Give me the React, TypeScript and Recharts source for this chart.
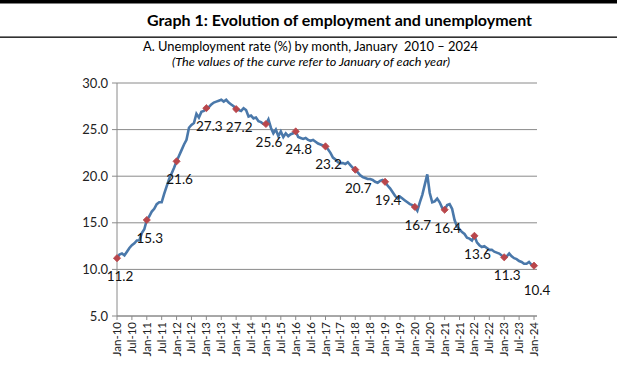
import React from 'react';
import { LineChart, Line, XAxis, YAxis, CartesianGrid, LabelList } from 'recharts';

const years = ['10', '11', '12', '13', '14', '15', '16', '17', '18', '19', '20', '21', '22', '23', '24'];
const monthAbbr = ['Jan', 'Feb', 'Mar', 'Apr', 'May', 'Jun', 'Jul', 'Aug', 'Sep', 'Oct', 'Nov', 'Dec'];

// Monthly unemployment rate (%), Jan-10 .. Jan-24
const rate = [
  // 2010
  11.2, 11.6, 11.7, 11.5, 11.9, 12.3, 12.6, 12.8, 13.1, 13.1, 13.9, 14.3,
  // 2011
  15.3, 15.7, 16.2, 16.5, 17.0, 17.2, 17.2, 18.1, 18.9, 19.7, 20.3, 20.9,
  // 2012
  21.6, 22.2, 22.8, 23.4, 23.9, 25.2, 25.5, 25.7, 26.7, 26.3, 26.9, 27.0,
  // 2013
  27.3, 27.4, 27.7, 27.9, 28.0, 28.1, 28.2, 28.0, 28.2, 27.9, 27.7, 27.5,
  // 2014
  27.2, 27.1, 27.0, 27.3, 27.1, 26.4, 26.5, 26.2, 26.3, 25.9, 25.8, 25.6,
  // 2015
  25.6, 26.1, 25.2, 24.6, 25.0, 24.3, 24.8, 24.2, 24.6, 24.3, 24.5, 24.6,
  // 2016
  24.8, 24.2, 24.1, 24.0, 24.1, 23.9, 23.8, 23.9, 23.7, 23.5, 23.4, 23.3,
  // 2017
  23.2, 22.9, 22.5, 22.0, 21.8, 21.5, 21.4, 21.4, 21.3, 21.5, 21.2, 20.9,
  // 2018
  20.7, 20.4, 20.1, 19.9, 19.8, 19.7, 19.7, 19.6, 19.4, 19.3, 19.5, 19.6,
  // 2019
  19.4, 19.0, 18.7, 18.3, 17.9, 17.6, 17.8, 17.6, 17.4, 17.2, 17.0, 16.9,
  // 2020
  16.7, 16.3, 17.2, 18.0, 19.1, 20.2, 18.2, 17.2, 17.3, 17.6, 17.2, 16.6,
  // 2021
  16.4, 16.9, 17.0, 16.5, 15.3, 14.6, 14.3, 14.0, 13.8, 13.4, 13.3, 13.1,
  // 2022
  13.6, 12.9, 12.6, 12.4, 12.5, 12.3, 12.1, 12.1, 11.9, 11.8, 11.7, 11.5,
  // 2023
  11.3, 11.4, 11.7, 11.4, 11.2, 11.1, 10.9, 10.8, 10.6, 10.6, 10.8, 10.5,
  // 2024
  10.4,
];

const xTicks = [
  'Jan-10', 'Jul-10', 'Jan-11', 'Jul-11', 'Jan-12', 'Jul-12', 'Jan-13', 'Jul-13', 'Jan-14', 'Jul-14',
  'Jan-15', 'Jul-15', 'Jan-16', 'Jul-16', 'Jan-17', 'Jul-17', 'Jan-18', 'Jul-18', 'Jan-19', 'Jul-19',
  'Jan-20', 'Jul-20', 'Jan-21', 'Jul-21', 'Jan-22', 'Jul-22', 'Jan-23', 'Jul-23', 'Jan-24',
];
const yTicks = [5, 10, 15, 20, 25, 30];

const categories: string[] = [];
years.forEach((y) => monthAbbr.forEach((m) => categories.push(`${m}-${y}`)));

const data = rate.map((v, i) => ({ month: categories[i], rate: v }));

const FONT = 'Lato, "Open Sans", sans-serif';
const GRID = '#8a8a8a';

const JanDot = (props: any) => {
  const { cx, cy, index } = props;
  if (index % 12 !== 0 || cx == null) return <g key={`d${index}`} />;
  const s = 3.6;
  return (
    <path
      key={`d${index}`}
      d={`M${cx},${cy - s} L${cx + s},${cy} L${cx},${cy + s} L${cx - s},${cy} Z`}
      fill="#b9464b"
      stroke="#b9464b"
      strokeWidth={0.8}
    />
  );
};

const JanLabel = (props: any) => {
  const { x, y, value, index } = props;
  if (index == null || index % 12 !== 0) return null;
  const last = index === rate.length - 1;
  return (
    <text
      x={x + 3}
      y={y + (last ? 29 : 23)}
      textAnchor="middle"
      fontFamily={FONT}
      fontSize={13.5}
      fill="#111"
    >
      {Number(value).toFixed(1)}
    </text>
  );
};

const XTick = (props: any) => {
  const { x, y, payload } = props;
  return (
    <text
      x={x}
      y={y}
      transform={`rotate(-90, ${x}, ${y})`}
      textAnchor="end"
      dy="0.35em"
      fontFamily={FONT}
      fontSize={11.5}
      fill="#222"
    >
      {payload.value}
    </text>
  );
};

export default function App() {
  return (
    <div style={{ position: 'absolute', left: 0, top: 0, width: 617, height: 386, background: '#fff', overflow: 'hidden' }}>
      <svg width={617} height={80} style={{ position: 'absolute', left: 0, top: 0 }}>
        <rect x={0} y={0} width={617} height={3.5} fill="#000" />
        <rect x={0} y={36.5} width={617} height={1.3} fill="#000" />
        <text x={147} y={26} fontFamily={FONT} fontWeight={700} fontSize={16} textLength={385} lengthAdjust="spacingAndGlyphs" fill="#000">
          Graph 1: Evolution of employment and unemployment
        </text>
        <text x={143} y={51} fontFamily={FONT} fontSize={13.5} textLength={335} lengthAdjust="spacingAndGlyphs" fill="#000" xmlSpace="preserve">
          A. Unemployment rate (%) by month, January  2010 – 2024
        </text>
        <text x={172} y={66} fontFamily={FONT} fontStyle="italic" fontSize={11.5} textLength={278} lengthAdjust="spacingAndGlyphs" fill="#000">
          (The values of the curve refer to January of each year)
        </text>
      </svg>
      <div style={{ position: 'absolute', left: 0, top: 0 }}>
        <LineChart width={617} height={386} data={data} margin={{ top: 83, right: 80, bottom: 10, left: 67 }}>
          <CartesianGrid vertical={false} stroke={GRID} strokeWidth={1} />
          <XAxis
            dataKey="month"
            ticks={xTicks}
            interval={0}
            height={60}
            tick={<XTick />}
            tickSize={4}
            tickMargin={2}
            stroke={GRID}
            padding={{ left: 0, right: 3 }}
          />
          <YAxis
            domain={[5, 30]}
            ticks={yTicks}
            width={50}
            tickSize={5}
            tickMargin={4}
            stroke={GRID}
            tickFormatter={(v: number) => v.toFixed(1)}
            tick={{ fontFamily: FONT, fontSize: 13, fill: '#222' }}
          />
          <Line
            type="linear"
            dataKey="rate"
            stroke="#4a78aa"
            strokeWidth={2.6}
            dot={JanDot}
            activeDot={false}
            isAnimationActive={false}
          >
            <LabelList dataKey="rate" content={JanLabel} />
          </Line>
        </LineChart>
      </div>
    </div>
  );
}
